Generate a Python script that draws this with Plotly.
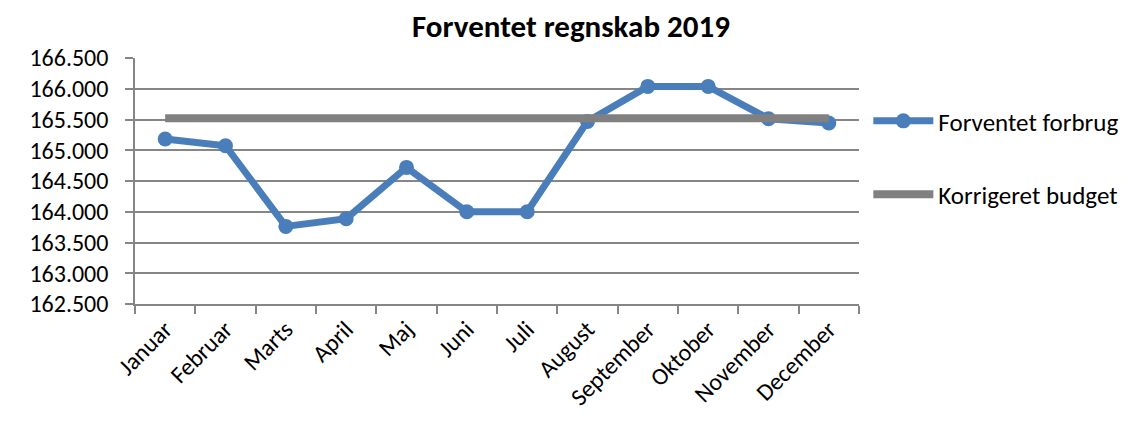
import plotly.graph_objects as go

months = ["Januar", "Februar", "Marts", "April", "Maj", "Juni", "Juli",
          "August", "September", "Oktober", "November", "December"]
forventet_forbrug = [165183, 165074, 163762, 163887, 164721, 164000, 164000,
                     165469, 166038, 166038, 165513, 165443]
korrigeret_budget = [165520] * 12

FONT = "Calibri, Carlito, Lato, sans-serif"

fig = go.Figure()
fig.add_trace(go.Scatter(
    x=months, y=forventet_forbrug, name="Forventet forbrug",
    mode="lines+markers",
    line=dict(color="#4a7ebb", width=7),
    marker=dict(color="#4a7ebb", size=15),
    legendgroup="a",
))
fig.add_trace(go.Scatter(
    x=months, y=korrigeret_budget, name="Korrigeret budget",
    mode="lines",
    line=dict(color="#808080", width=8),
    legendgroup="b",
))

fig.update_layout(
    width=1135, height=425,
    paper_bgcolor="white", plot_bgcolor="white",
    margin=dict(l=127, r=284, t=50, b=129, autoexpand=False),
    separators=",.",
    font=dict(family=FONT, size=24, color="black"),
    title=dict(text="<b>Forventet regnskab 2019</b>", x=0.496, xanchor="center",
               y=0.957, yanchor="middle", font=dict(family=FONT, size=31)),
    showlegend=True,
    legend=dict(xref="container", yref="container",
                x=0.758, y=0.788, xanchor="left", yanchor="top",
                traceorder="grouped", tracegroupgap=38,
                font=dict(family=FONT, size=25), itemwidth=60),
    xaxis=dict(
        type="category", tickangle=-45, showgrid=False,
        showline=True, linecolor="#868686", linewidth=1.5,
        ticks="outside", ticklen=8, tickcolor="#868686", tickwidth=1.5,
        tickson="boundaries", range=[-0.5, 11.5],
    ),
    yaxis=dict(
        range=[162500, 166500], dtick=500, tick0=162500,
        tickformat=",d",
        showgrid=True, gridcolor="#868686", gridwidth=1.5,
        showline=True, linecolor="#868686", linewidth=1.5,
        ticks="outside", ticklen=8, tickcolor="#868686", tickwidth=1.5,
        ticklabelstandoff=12,
        zeroline=False,
    ),
)

fig.write_html("out.html")
